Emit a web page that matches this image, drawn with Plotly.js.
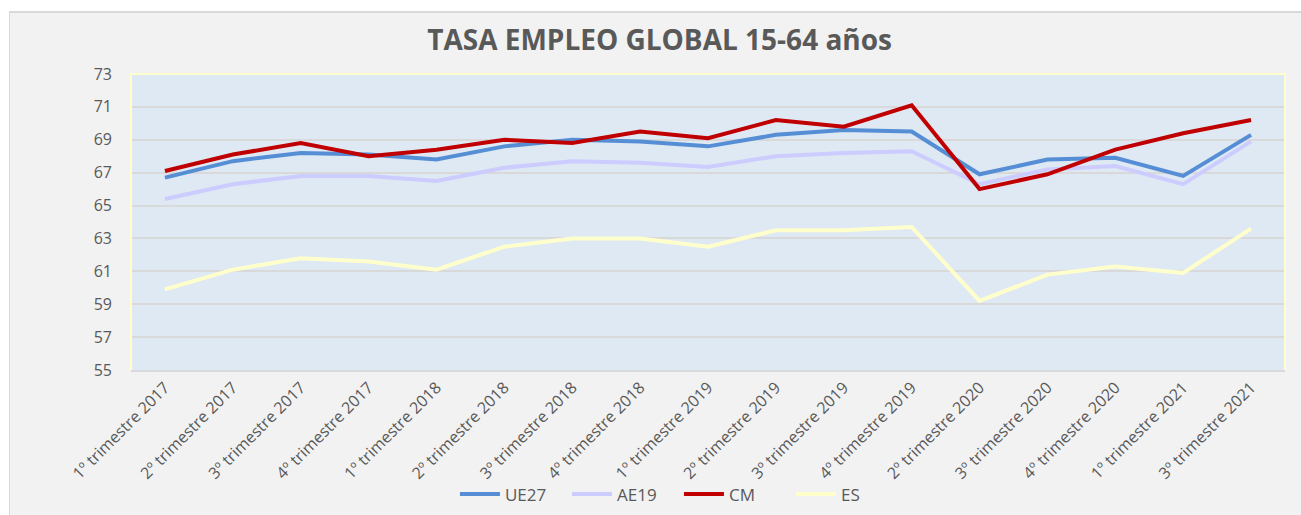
<!DOCTYPE html>
<html>
<head>
<meta charset="utf-8">
<script src="https://cdn.plot.ly/plotly-3.0.1.min.js"></script>
<style>
  html, body { margin: 0; padding: 0; background: #ffffff; width: 1301px; height: 515px; overflow: hidden; }
  #frame { position: absolute; left: 9px; top: 11px; width: 1292px; height: 504px; background: #f2f2f2; border-left: 1px solid #d9d9d9; border-top: 2px solid #d9d9d9; box-sizing: border-box; }
  #chart { position: absolute; left: 0; top: 0; width: 1301px; height: 515px; }
</style>
</head>
<body>
<div id="frame"></div>
<div id="chart"></div>
<script>
const categories = [
  "1º trimestre 2017", "2º trimestre 2017", "3º trimestre 2017", "4º trimestre 2017",
  "1º trimestre 2018", "2º trimestre 2018", "3º trimestre 2018", "4º trimestre 2018",
  "1º trimestre 2019", "2º trimestre 2019", "3º trimestre 2019", "4º trimestre 2019",
  "2º trimestre 2020", "3º trimestre 2020", "4º trimestre 2020", "1º trimestre 2021",
  "3º trimestre 2021"
];
const ue27 = [66.7, 67.7, 68.2, 68.1, 67.8, 68.6, 69.0, 68.9, 68.6, 69.3, 69.6, 69.5, 66.9, 67.8, 67.9, 66.8, 69.3];
const ae19 = [65.4, 66.3, 66.8, 66.8, 66.5, 67.3, 67.7, 67.6, 67.35, 68.0, 68.2, 68.3, 66.3, 67.2, 67.4, 66.3, 68.9];
const cm   = [67.1, 68.1, 68.8, 68.0, 68.4, 69.0, 68.8, 69.5, 69.1, 70.2, 69.8, 71.1, 66.0, 66.9, 68.4, 69.4, 70.2];
const es   = [59.9, 61.1, 61.8, 61.6, 61.1, 62.5, 63.0, 63.0, 62.5, 63.5, 63.5, 63.7, 59.2, 60.8, 61.3, 60.9, 63.6];
const yTicks = [55, 57, 59, 61, 63, 65, 67, 69, 71, 73];

const FONT = "'Open Sans', Lato, sans-serif";
const GREY = "#595959";

function series(name, y, color) {
  return { type: "scatter", mode: "lines", name: name, x: categories, y: y,
           line: { color: color, width: 4 }, hoverinfo: "x+y+name" };
}

const data = [
  series("UE27", ue27, "#558ed5"),
  series("AE19", ae19, "#ccccff"),
  series("CM", cm, "#c00000"),
  series("ES", es, "#ffffcc")
];

const layout = {
  width: 1301, height: 515,
  paper_bgcolor: "rgba(0,0,0,0)",
  plot_bgcolor: "#dee9f4",
  margin: { l: 131, r: 16, t: 74, b: 145, pad: 0 },
  font: { family: FONT, color: GREY, size: 15 },
  title: { text: "<b>TASA EMPLEO GLOBAL 15-64 años</b>", x: 0.507, xref: "container", xanchor: "center",
           y: 1, yref: "container", yanchor: "top", pad: { t: 30 },
           font: { family: FONT, size: 28, color: GREY } },
  xaxis: {
    type: "category", tickangle: -45, tickfont: { family: FONT, size: 16, color: GREY },
    showgrid: false, zeroline: false, showline: true, linecolor: "#d9d9d9", linewidth: 2,
    ticks: "", automargin: false, range: [-0.5, categories.length - 0.5]
  },
  yaxis: {
    range: [55, 73], tickvals: yTicks, ticktext: yTicks.map(String),
    tickfont: { family: FONT, size: 16, color: GREY },
    showgrid: true, gridcolor: "#d9d9d9", gridwidth: 2, zeroline: false, showline: false,
    ticks: "", ticklabelstandoff: 18, automargin: false, fixedrange: true
  },
  shapes: [
    { type: "line", xref: "paper", yref: "paper", x0: 0, x1: 0, y0: 0, y1: 1, line: { color: "#ffffcc", width: 2 }, layer: "above" },
    { type: "line", xref: "paper", yref: "paper", x0: 1, x1: 1, y0: 0, y1: 1, line: { color: "#ffffcc", width: 2 }, layer: "above" },
    { type: "line", xref: "paper", yref: "paper", x0: 0, x1: 1, y0: 1, y1: 1, line: { color: "#ffffcc", width: 2 }, layer: "above" }
  ],
  showlegend: true,
  legend: {
    orientation: "h", x: 0.3497, xref: "container", xanchor: "left",
    y: 0.04, yref: "container", yanchor: "middle",
    bgcolor: "rgba(0,0,0,0)", font: { family: FONT, size: 17, color: GREY },
    itemwidth: 40, entrywidth: 57, entrywidthmode: "pixels", tracegroupgap: 0
  }
};

Plotly.newPlot("chart", data, layout, { displayModeBar: false, staticPlot: false });
</script>
</body>
</html>
